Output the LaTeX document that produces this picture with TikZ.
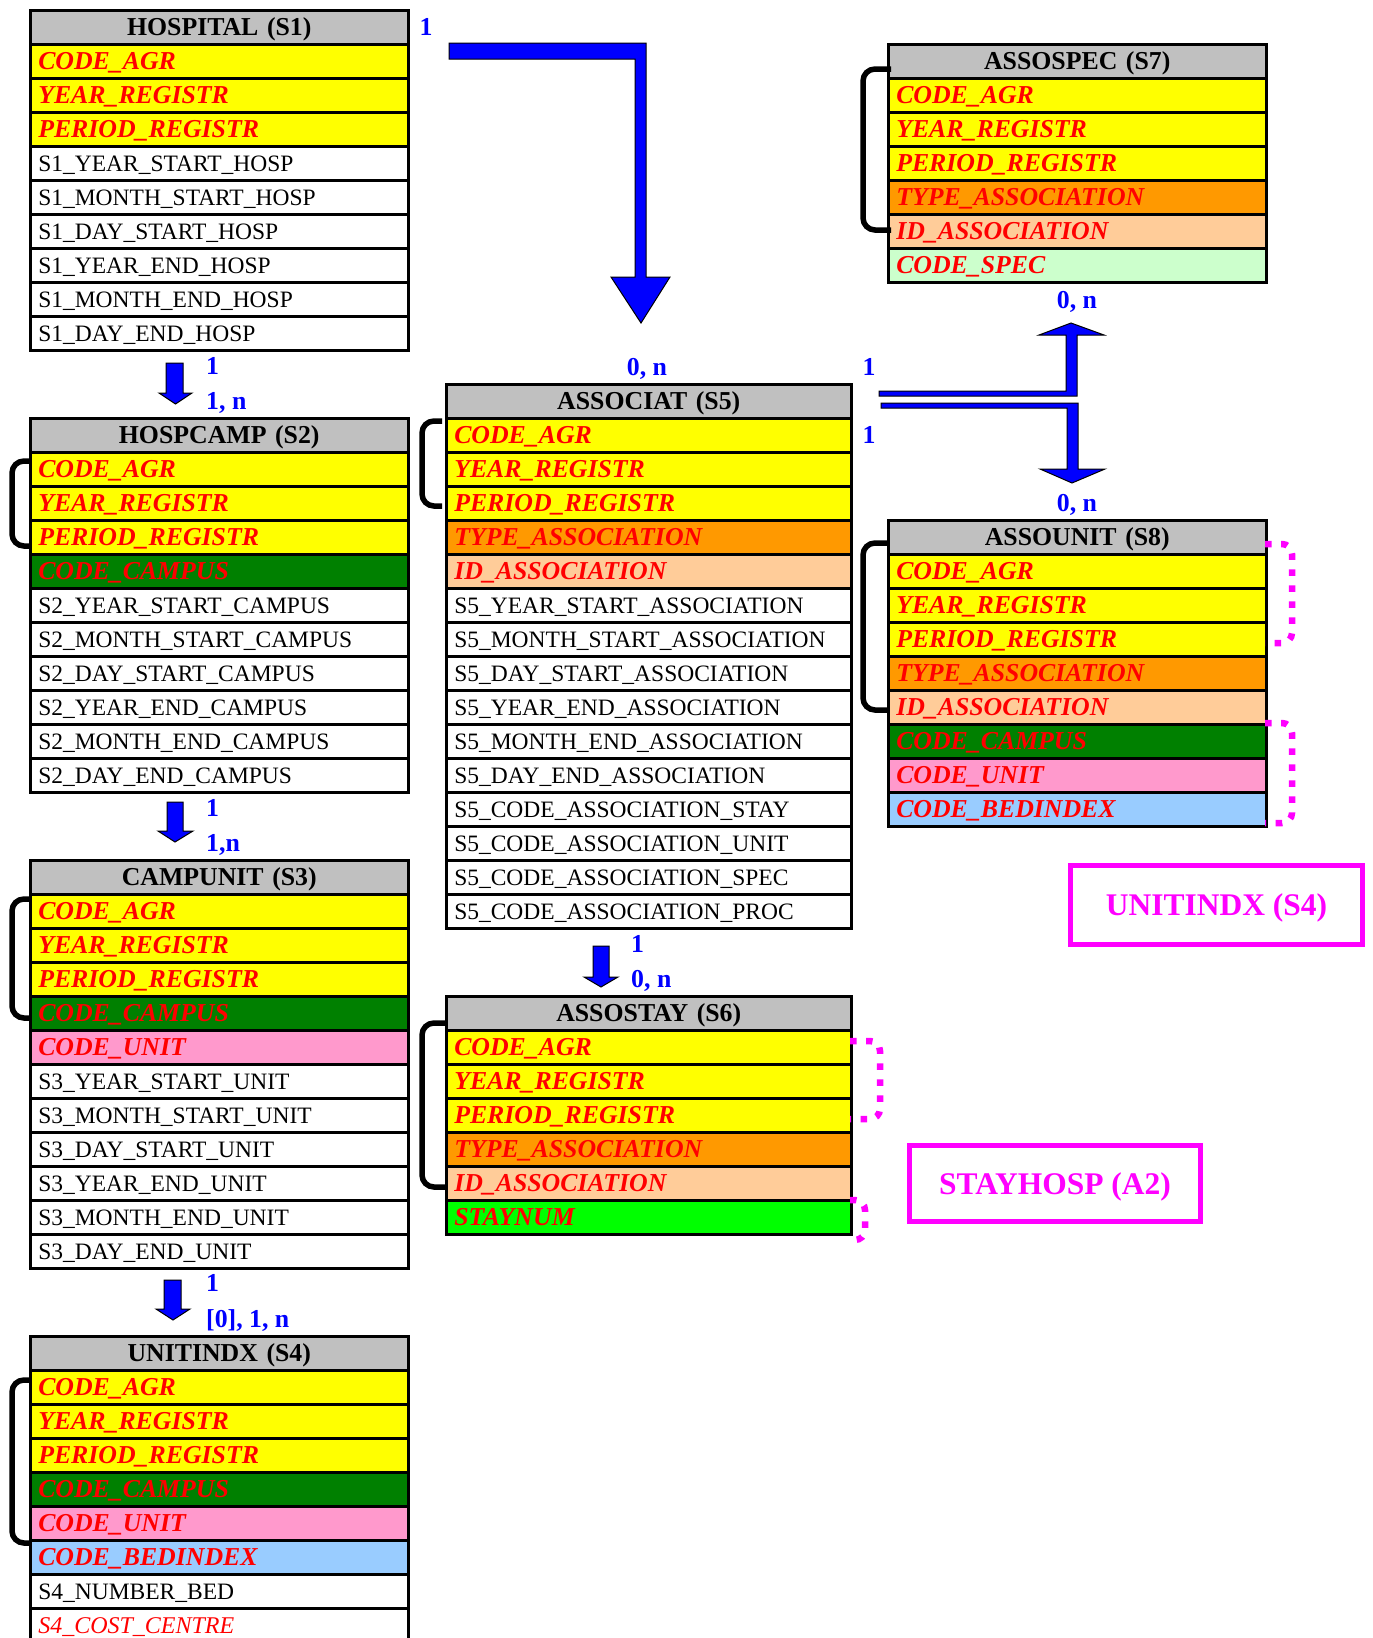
\documentclass[tikz,border=0pt]{standalone}
\usepackage{fontspec}
\setmainfont{Liberation Serif}
\definecolor{hgray}{HTML}{C0C0C0}
\definecolor{kyellow}{HTML}{FFFF00}
\definecolor{korange}{HTML}{FF9900}
\definecolor{kpeach}{HTML}{FFCC99}
\definecolor{kdgreen}{HTML}{008000}
\definecolor{kpink}{HTML}{FF99CC}
\definecolor{klblue}{HTML}{99CCFF}
\definecolor{kmint}{HTML}{CCFFCC}
\definecolor{kgreen}{HTML}{00FF00}
\definecolor{kred}{HTML}{FF0000}
\definecolor{ablue}{HTML}{0000FF}
\definecolor{kmag}{HTML}{FF00FF}
\newcommand\fkey{\fontsize{25.8}{30}\selectfont\bfseries\itshape}
\newcommand\fplain{\fontsize{23.5}{28}\selectfont}
\newcommand\fhead{\fontsize{25.8}{30}\selectfont\bfseries}
\newcommand\fmag{\fontsize{31.5}{36}\selectfont\bfseries}
\newcommand\fital{\fontsize{24}{28}\selectfont\itshape}
\newcommand\tbegin[3]{\def\tx{#1}\def\ty{#2}\def\tw{#3}}
\newcommand\rw[3]{\node[cell,#2,text width=\tw] (#1) at (\tx,\ty) {#3};\pgfmathsetmacro\ty{\ty+34}}
\begin{document}
\begin{tikzpicture}[x=1pt,y=-1pt,
  cell/.style={draw=black, line width=2.5pt, anchor=north west, minimum height=34pt,
    inner xsep=8pt, inner ysep=0pt, text height=15.5pt, text depth=0pt, align=left},
  hd/.style={fill=hgray, align=center, font=\fhead, text height=16.5pt},
  ky/.style={fill=kyellow, text=kred, font=\fkey},
  ko/.style={fill=korange, text=kred, font=\fkey},
  kp/.style={fill=kpeach, text=kred, font=\fkey},
  kd/.style={fill=kdgreen, text=kred, font=\fkey},
  kk/.style={fill=kpink, text=kred, font=\fkey},
  kb/.style={fill=klblue, text=kred, font=\fkey},
  km/.style={fill=kmint, text=kred, font=\fkey},
  kg/.style={fill=kgreen, text=kred, font=\fkey},
  attr/.style={fill=white, font=\fplain},
  aitl/.style={fill=white, text=kred, font=\fital},
  bracket/.style={draw=black, line width=5.5pt, rounded corners=12pt},
  mdot/.style={draw=kmag, line width=6.5pt, dash pattern=on 6.5pt off 9.5pt, rounded corners=10pt},
  barrow/.style={fill=ablue, draw=black, line width=1pt, line join=miter},
  lab/.style={text=ablue, font=\fhead, inner sep=0pt, text height=17pt, text depth=0pt},
  magbox/.style={draw=kmag, line width=5pt, text=kmag, font=\fmag, inner sep=0pt, text height=21pt, text depth=0pt}
]
\fill[white] (0,0) rectangle (1373,1638);
\clip (0,0) rectangle (1373,1638);

% ---------- HOSPITAL (S1)
\tbegin{29}{9}{362pt}
\rw{s1h}{hd}{HOSPITAL (S1)}
\rw{s1a}{ky}{CODE\_AGR}
\rw{s1b}{ky}{YEAR\_REGISTR}
\rw{s1c}{ky}{PERIOD\_REGISTR}
\rw{s1d}{attr}{S1\_YEAR\_START\_HOSP}
\rw{s1e}{attr}{S1\_MONTH\_START\_HOSP}
\rw{s1f}{attr}{S1\_DAY\_START\_HOSP}
\rw{s1g}{attr}{S1\_YEAR\_END\_HOSP}
\rw{s1i}{attr}{S1\_MONTH\_END\_HOSP}
\rw{s1j}{attr}{S1\_DAY\_END\_HOSP}

% ---------- HOSPCAMP (S2)
\tbegin{29}{417}{362pt}
\rw{s2h}{hd}{HOSPCAMP (S2)}
\rw{s2a}{ky}{CODE\_AGR}
\rw{s2b}{ky}{YEAR\_REGISTR}
\rw{s2c}{ky}{PERIOD\_REGISTR}
\rw{s2d}{kd}{CODE\_CAMPUS}
\rw{s2e}{attr}{S2\_YEAR\_START\_CAMPUS}
\rw{s2f}{attr}{S2\_MONTH\_START\_CAMPUS}
\rw{s2g}{attr}{S2\_DAY\_START\_CAMPUS}
\rw{s2i}{attr}{S2\_YEAR\_END\_CAMPUS}
\rw{s2j}{attr}{S2\_MONTH\_END\_CAMPUS}
\rw{s2k}{attr}{S2\_DAY\_END\_CAMPUS}

% ---------- CAMPUNIT (S3)
\tbegin{29}{859}{362pt}
\rw{s3h}{hd}{CAMPUNIT (S3)}
\rw{s3a}{ky}{CODE\_AGR}
\rw{s3b}{ky}{YEAR\_REGISTR}
\rw{s3c}{ky}{PERIOD\_REGISTR}
\rw{s3d}{kd}{CODE\_CAMPUS}
\rw{s3e}{kk}{CODE\_UNIT}
\rw{s3f}{attr}{S3\_YEAR\_START\_UNIT}
\rw{s3g}{attr}{S3\_MONTH\_START\_UNIT}
\rw{s3i}{attr}{S3\_DAY\_START\_UNIT}
\rw{s3j}{attr}{S3\_YEAR\_END\_UNIT}
\rw{s3k}{attr}{S3\_MONTH\_END\_UNIT}
\rw{s3l}{attr}{S3\_DAY\_END\_UNIT}

% ---------- UNITINDX (S4)
\tbegin{29}{1335}{362pt}
\rw{s4h}{hd}{UNITINDX (S4)}
\rw{s4a}{ky}{CODE\_AGR}
\rw{s4b}{ky}{YEAR\_REGISTR}
\rw{s4c}{ky}{PERIOD\_REGISTR}
\rw{s4d}{kd}{CODE\_CAMPUS}
\rw{s4e}{kk}{CODE\_UNIT}
\rw{s4f}{kb}{CODE\_BEDINDEX}
\rw{s4g}{attr}{S4\_NUMBER\_BED}
\rw{s4i}{aitl}{S4\_COST\_CENTRE}

% ---------- ASSOCIAT (S5)
\tbegin{445}{383}{389pt}
\rw{s5h}{hd}{ASSOCIAT (S5)}
\rw{s5a}{ky}{CODE\_AGR}
\rw{s5b}{ky}{YEAR\_REGISTR}
\rw{s5c}{ky}{PERIOD\_REGISTR}
\rw{s5d}{ko}{TYPE\_ASSOCIATION}
\rw{s5e}{kp}{ID\_ASSOCIATION}
\rw{s5f}{attr}{S5\_YEAR\_START\_ASSOCIATION}
\rw{s5g}{attr}{S5\_MONTH\_START\_ASSOCIATION}
\rw{s5i}{attr}{S5\_DAY\_START\_ASSOCIATION}
\rw{s5j}{attr}{S5\_YEAR\_END\_ASSOCIATION}
\rw{s5k}{attr}{S5\_MONTH\_END\_ASSOCIATION}
\rw{s5l}{attr}{S5\_DAY\_END\_ASSOCIATION}
\rw{s5m}{attr}{S5\_CODE\_ASSOCIATION\_STAY}
\rw{s5n}{attr}{S5\_CODE\_ASSOCIATION\_UNIT}
\rw{s5o}{attr}{S5\_CODE\_ASSOCIATION\_SPEC}
\rw{s5p}{attr}{S5\_CODE\_ASSOCIATION\_PROC}

% ---------- ASSOSTAY (S6)
\tbegin{445}{995}{389pt}
\rw{s6h}{hd}{ASSOSTAY (S6)}
\rw{s6a}{ky}{CODE\_AGR}
\rw{s6b}{ky}{YEAR\_REGISTR}
\rw{s6c}{ky}{PERIOD\_REGISTR}
\rw{s6d}{ko}{TYPE\_ASSOCIATION}
\rw{s6e}{kp}{ID\_ASSOCIATION}
\rw{s6f}{kg}{STAYNUM}

% ---------- ASSOSPEC (S7)
\tbegin{887}{43}{362pt}
\rw{s7h}{hd}{ASSOSPEC (S7)}
\rw{s7a}{ky}{CODE\_AGR}
\rw{s7b}{ky}{YEAR\_REGISTR}
\rw{s7c}{ky}{PERIOD\_REGISTR}
\rw{s7d}{ko}{TYPE\_ASSOCIATION}
\rw{s7e}{kp}{ID\_ASSOCIATION}
\rw{s7f}{km}{CODE\_SPEC}

% ---------- ASSOUNIT (S8)
\tbegin{887}{519}{362pt}
\rw{s8h}{hd}{ASSOUNIT (S8)}
\rw{s8a}{ky}{CODE\_AGR}
\rw{s8b}{ky}{YEAR\_REGISTR}
\rw{s8c}{ky}{PERIOD\_REGISTR}
\rw{s8d}{ko}{TYPE\_ASSOCIATION}
\rw{s8e}{kp}{ID\_ASSOCIATION}
\rw{s8f}{kd}{CODE\_CAMPUS}
\rw{s8g}{kk}{CODE\_UNIT}
\rw{s8i}{kb}{CODE\_BEDINDEX}

% ---------- key brackets
\draw[bracket] (30,461) -- (12,461) -- (12,546) -- (30,546);
\draw[bracket] (30,899) -- (12,899) -- (12,1018) -- (30,1018);
\draw[bracket] (30,1380) -- (12,1380) -- (12,1543) -- (30,1543);
\draw[bracket] (442,421) -- (422,421) -- (422,506) -- (442,506);
\draw[bracket] (446,1023) -- (422,1023) -- (422,1187) -- (446,1187);
\draw[bracket] (891,69) -- (863,69) -- (863,230) -- (891,230);
\draw[bracket] (888,543) -- (863,543) -- (863,710) -- (888,710);

% ---------- magenta dotted brackets
\draw[mdot] (1265,544) -- (1292,544) -- (1292,643) -- (1265,643);
\draw[mdot] (1265,723) -- (1292,723) -- (1292,823) -- (1265,823);
\draw[mdot] (850,1041) -- (880,1041) -- (880,1119) -- (850,1119);
\draw[mdot] (850,1200) -- (865,1200) -- (865,1240) -- (850,1240);

% ---------- magenta boxes
\node[magbox, minimum width=292pt, minimum height=79pt] (m4) at (1216.5,905) {UNITINDX (S4)};
\node[magbox, minimum width=291pt, minimum height=76pt] (m2) at (1055,1183.5) {STAYHOSP (A2)};

% ---------- blue arrows
\draw[barrow] (449,43) -- (646,43) -- (646,277) -- (670,277) -- (641,323) -- (611,277) -- (635,277) -- (635,59) -- (449,59) -- cycle;
\draw[barrow] (166,363) -- (183,363) -- (183,393) -- (192,393) -- (175.5,404) -- (159,393) -- (166,393) -- cycle;
\draw[barrow] (167,802) -- (183,802) -- (183,831) -- (193,831) -- (175,842) -- (158,831) -- (167,831) -- cycle;
\draw[barrow] (164,1280) -- (181,1280) -- (181,1309) -- (190,1309) -- (173,1320) -- (156,1309) -- (164,1309) -- cycle;
\draw[barrow] (593,946) -- (609,946) -- (609,977) -- (618,977) -- (601,987) -- (584,977) -- (593,977) -- cycle;
\draw[barrow] (879,391) -- (1066,391) -- (1066,335) -- (1039,335) -- (1071,323) -- (1104,335) -- (1077,335) -- (1077,396) -- (879,396) -- cycle;
\draw[barrow] (881,403) -- (1078,403) -- (1078,469) -- (1105,469) -- (1072,483) -- (1040,469) -- (1067,469) -- (1067,408) -- (881,408) -- cycle;

% ---------- cardinality labels
\node[lab] (l0) at (426,27) {1};
\node[lab, anchor=west] (l1a) at (206,366) {1};
\node[lab, anchor=west] (l1b) at (206,401) {1, n};
\node[lab, anchor=west] (l2a) at (206,808) {1};
\node[lab, anchor=west] (l2b) at (206,843) {1,n};
\node[lab, anchor=west] (l3a) at (206,1283) {1};
\node[lab, anchor=west] (l3b) at (206,1319) {[0], 1, n};
\node[lab] (l5a) at (647,367) {0, n};
\node[lab] (l5b) at (869,367) {1};
\node[lab] (l5c) at (869,435) {1};
\node[lab] (l7) at (1077,300) {0, n};
\node[lab] (l8) at (1077,503) {0, n};
\node[lab, anchor=west] (l6a) at (631,944) {1};
\node[lab, anchor=west] (l6b) at (631,979) {0, n};
\end{tikzpicture}
\end{document}
